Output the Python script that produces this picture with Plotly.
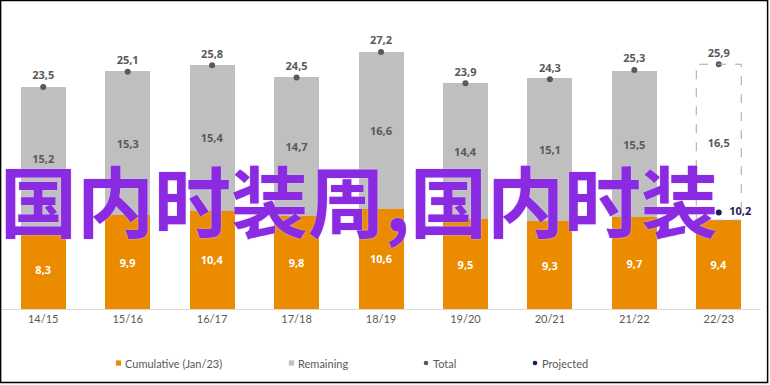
import plotly.graph_objects as go

categories = ["14/15", "15/16", "16/17", "17/18", "18/19", "19/20", "20/21", "21/22", "22/23"]
cumulative = [8.3, 9.9, 10.4, 9.8, 10.6, 9.5, 9.3, 9.7, 9.4]
remaining = [15.2, 15.3, 15.4, 14.7, 16.6, 14.4, 15.1, 15.5, 16.5]
total = [23.5, 25.1, 25.8, 24.5, 27.2, 23.9, 24.3, 25.3, 25.9]
projected_cat = ["22/23"]
projected = [10.2]
legend_names = ["Cumulative (Jan/23)", "Remaining", "Total", "Projected"]
overlay_text = "国内时装周,国内时装"

ORANGE = "#EA8B00"
GRAY = "#BFBFBF"
DARK = "#595959"
NAVY = "#1F1A5C"
FONT = "Open Sans"
LFONT = "Lato"

W, H = 770, 385
ML, MR, MT, MB = 1, 9, 20, 76
PW, PH = W - ML - MR, H - MT - MB


def px(x):
    return (x - ML) / PW


def py(y):
    return (H - MB - y) / PH


n = len(categories)
gray_colors = [GRAY] * (n - 1) + ["rgba(0,0,0,0)"]

fig = go.Figure()

fig.add_trace(go.Bar(
    x=categories, y=cumulative, name=legend_names[0],
    marker=dict(color=ORANGE, line=dict(width=0)),
    texttemplate="%{y:.1f}", textposition="inside", insidetextanchor="middle",
    textangle=0, constraintext="none",
    textfont=dict(family=FONT, size=11, color="white", weight="bold"),
    showlegend=False, hoverinfo="skip",
))
fig.add_trace(go.Bar(
    x=categories, y=remaining, name=legend_names[1],
    marker=dict(color=gray_colors, line=dict(width=0)),
    texttemplate="%{y:.1f}", textposition="inside", insidetextanchor="middle",
    textangle=0, constraintext="none",
    textfont=dict(family=FONT, size=11, color=DARK, weight="bold"),
    showlegend=False, hoverinfo="skip",
))
fig.add_trace(go.Scatter(
    x=categories, y=total, mode="markers+text", name=legend_names[2],
    marker=dict(color=DARK, size=6),
    texttemplate="%{y:.1f}", textposition="top center",
    textfont=dict(family=FONT, size=11, color=DARK, weight="bold"),
    showlegend=False, cliponaxis=False, hoverinfo="skip",
))
fig.add_trace(go.Scatter(
    x=projected_cat, y=projected, mode="markers+text", name=legend_names[3],
    marker=dict(color=NAVY, size=6),
    texttemplate="  %{y:.1f}", textposition="middle right",
    textfont=dict(family=FONT, size=11, color=NAVY, weight="bold"),
    showlegend=False, cliponaxis=False, hoverinfo="skip",
))

# custom legend (keys as small shapes, labels as text)
legend_keys = [
    (legend_names[0], ORANGE, "rect", 118.5, 123),
    (legend_names[1], GRAY, "rect", 291.5, 296),
    (legend_names[2], DARK, "circle", 426, 431),
    (legend_names[3], NAVY, "circle", 535, 540),
]
LY = 363
for name, color, kind, kx, tx in legend_keys:
    r = 2.6 if kind == "rect" else 2.3
    fig.add_shape(
        type=kind, xref="paper", yref="paper",
        x0=px(kx - r), x1=px(kx + r), y0=py(LY + r), y1=py(LY - r),
        line=dict(width=0), fillcolor=color,
    )
    fig.add_annotation(
        text=name, xref="paper", yref="paper", x=px(tx), y=py(LY),
        xanchor="left", yanchor="middle", showarrow=False,
        font=dict(family=LFONT, size=11, color=DARK),
    )

# dashed outline for projected remaining segment
last = n - 1
half = 0.2665
fig.add_shape(
    type="rect", xref="x", yref="y",
    x0=last - half, x1=last + half, y0=cumulative[last], y1=total[last],
    line=dict(color="#A6A6A6", width=1, dash="dash"), fillcolor="rgba(0,0,0,0)",
    layer="above",
)

# outer border of the image
fig.add_shape(
    type="rect", xref="paper", yref="paper",
    x0=px(0.6), x1=px(767.6), y0=py(382.6), y1=py(0.6),
    line=dict(color="black", width=1.5), fillcolor="rgba(0,0,0,0)",
)

fig.add_annotation(
    text=overlay_text, xref="paper", yref="paper", x=px(359), y=py(199),
    xanchor="center", yanchor="middle", showarrow=False,
    font=dict(family="Noto Sans CJK SC", size=77, color="#8A2BE2", weight="bold",
              shadow="0px 0px 2px #D9C2F2"),
)

fig.update_layout(
    width=W, height=H,
    margin=dict(l=ML, r=MR, t=MT, b=MB),
    paper_bgcolor="white", plot_bgcolor="white",
    barmode="stack", bargap=0.467,
    separators=", ",
    showlegend=False, hovermode=False,
    font=dict(family=FONT, size=11, color=DARK),
)
fig.update_xaxes(
    type="category", showgrid=False, showline=True, linecolor="#D9D9D9", linewidth=1,
    ticks="", tickfont=dict(family=LFONT, size=11, color=DARK),
)
fig.update_yaxes(range=[0, 30.58], visible=False, showgrid=False)

fig.write_html(
    "out.html",
    config={"displayModeBar": False, "staticPlot": True},
    post_script="document.body.style.margin='0px';",
)
